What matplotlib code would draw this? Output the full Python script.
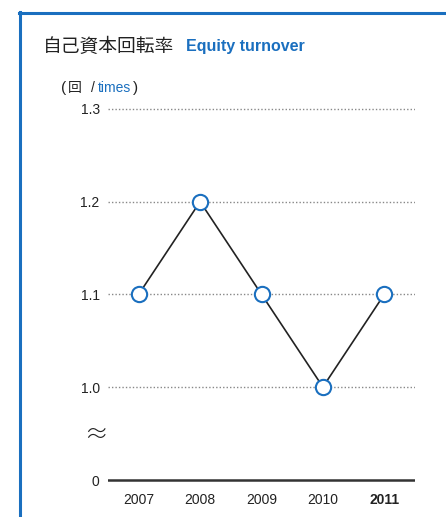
import matplotlib
matplotlib.use("Agg")
import matplotlib.pyplot as plt
from matplotlib import font_manager as fm

years = [2007, 2008, 2009, 2010, 2011]
year_labels = ["2007", "2008", "2009", "2010", "2011"]
values = [1.1, 1.2, 1.1, 1.0, 1.1]
yticks = [1.0, 1.1, 1.2, 1.3]
ytick_labels = ["1.0", "1.1", "1.2", "1.3"]

BLUE = "#1a6fbf"
DARK = "#222222"
GRID = "#888888"

names = {f.name for f in fm.fontManager.ttflist}
NUM_FONT = "Liberation Sans" if "Liberation Sans" in names else "DejaVu Sans"
NARROW = "Liberation Sans Narrow" if "Liberation Sans Narrow" in names else NUM_FONT
JP = ["Noto Sans CJK JP", "DejaVu Sans"]

W, H = 446, 517
fig = plt.figure(figsize=(W / 100, H / 100), dpi=100)

def fx(px):
    return px / W

def fy(py):
    return 1 - py / H

# blue frame (top and left)
fig.add_artist(plt.Line2D([fx(19), 1.0], [fy(13), fy(13)], color=BLUE, lw=2.2, transform=fig.transFigure))
fig.add_artist(plt.Line2D([fx(20), fx(20)], [fy(12), 0.0], color=BLUE, lw=2.2, transform=fig.transFigure))

# title
fig.text(fx(43), fy(46), "自己資本回転率", family=JP, fontsize=13.5, color=DARK, va="center", ha="left")
fig.text(fx(186), fy(46), "Equity turnover", family=NARROW, fontsize=11.5, fontweight="bold",
         color=BLUE, va="center", ha="left")

# unit label
fig.text(fx(61), fy(88), "(", family=NUM_FONT, fontsize=11, color=DARK, va="center", ha="left")
fig.text(fx(68), fy(88), "回", family=JP, fontsize=10, color=DARK, va="center", ha="left")
fig.text(fx(91), fy(88), "/", family=NUM_FONT, fontsize=10, color=DARK, va="center", ha="left")
fig.text(fx(98), fy(88), "times", family=NARROW, fontsize=10, color=BLUE, va="center", ha="left")
fig.text(fx(133), fy(88), ")", family=NUM_FONT, fontsize=11, color=DARK, va="center", ha="left")

# main axes
top_px, bot_px = 100, 400
left_px, right_px = 108, 415
ax = fig.add_axes([fx(left_px), fy(bot_px), fx(right_px - left_px), (bot_px - top_px) / H])
per_px = 0.1 / 92.7
ax.set_ylim(1.0 - (bot_px - 387) * per_px, 1.3 + (109 - top_px) * per_px)
ax.set_xlim(2006.5, 2011.5)
for s in ax.spines.values():
    s.set_visible(False)
ax.set_xticks([])
ax.set_yticks(yticks)
ax.set_yticklabels(ytick_labels, family=NUM_FONT, fontsize=10, color=DARK)
ax.tick_params(axis="y", length=0, pad=6)
for v in yticks:
    ax.axhline(v, color=GRID, lw=1.0, ls=(0, (1, 1.5)), zorder=1)
ax.plot(years, values, color=DARK, lw=1.2, zorder=2, clip_on=False)
ax.plot(years, values, ls="none", marker="o", ms=11, mfc="white", mec=BLUE, mew=1.5,
        zorder=3, clip_on=False)
ax.patch.set_alpha(0)

# bottom baseline axes
ax0 = fig.add_axes([fx(left_px), fy(490), fx(right_px - left_px), 20 / H])
ax0.set_xlim(2006.5, 2011.5)
ax0.set_ylim(-1, 1)
for s in ax0.spines.values():
    s.set_visible(False)
ax0.axhline(0, color="#333333", lw=1.8)
ax0.set_yticks([0])
ax0.set_yticklabels(["0"], family=NUM_FONT, fontsize=10, color=DARK)
ax0.tick_params(axis="y", length=0, pad=6)
ax0.set_xticks(years)
ax0.set_xticklabels(year_labels, family=NUM_FONT, fontsize=10, color=DARK)
ax0.tick_params(axis="x", length=0, pad=2)
ax0.get_xticklabels()[-1].set_fontweight("bold")
ax0.patch.set_alpha(0)

# axis break symbol
fig.text(fx(96), fy(435), "≈", family=JP, fontsize=17, color=DARK, va="center", ha="center",
         fontweight="light")

fig.savefig("out.png", dpi=100)
